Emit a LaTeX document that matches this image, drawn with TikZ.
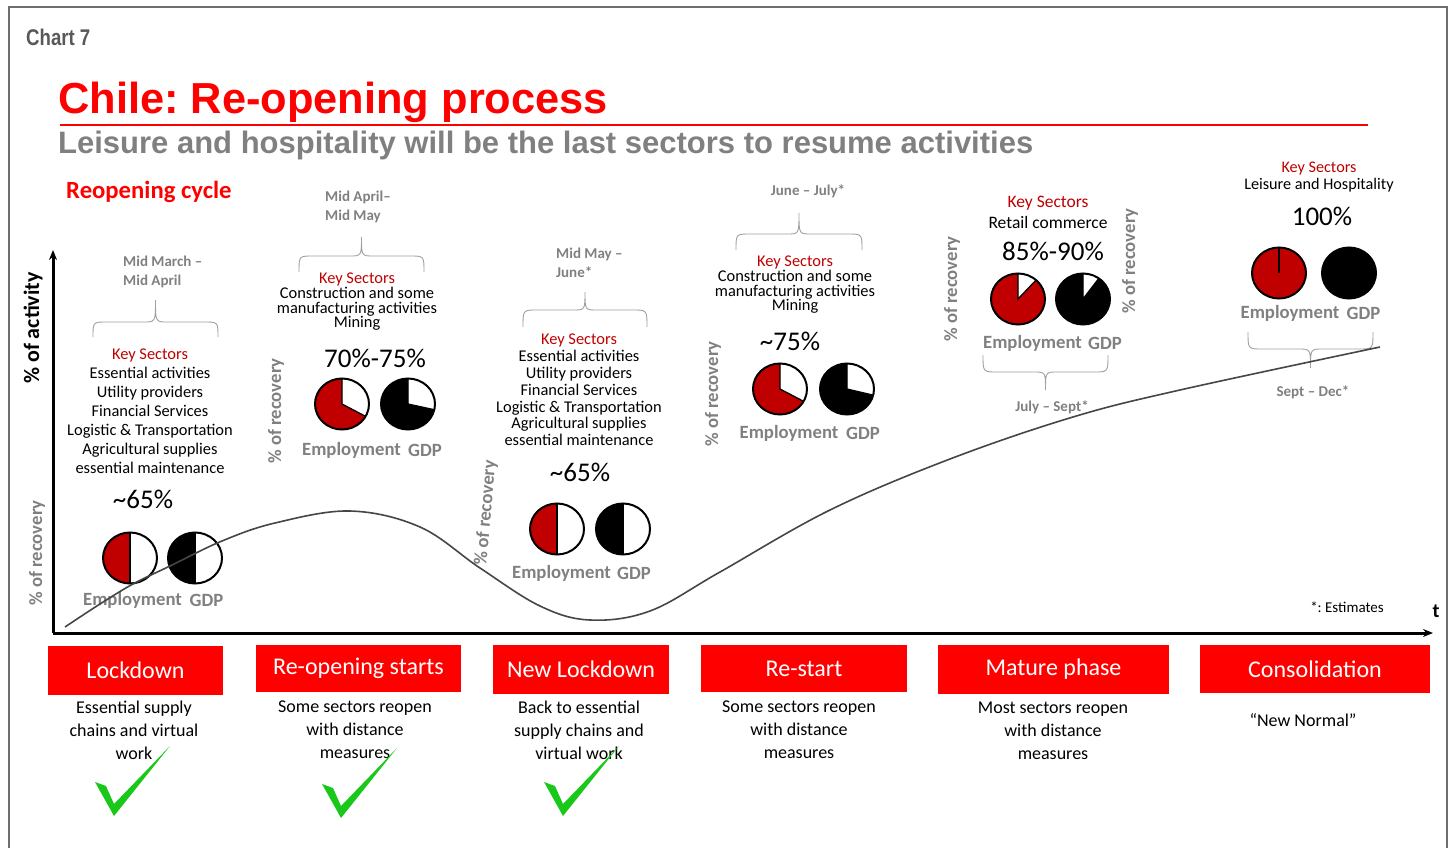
\documentclass[tikz,border=0pt]{standalone}
\usepackage{fontspec}
\setmainfont{Carlito}
\newfontfamily\arialfont{Liberation Sans}
\newfontfamily\narrowfont[FakeStretch=0.82]{Liberation Sans}
\usetikzlibrary{arrows.meta}
\frenchspacing

\definecolor{titlered}{RGB}{255,0,0}
\definecolor{keyred}{RGB}{192,0,0}
\definecolor{labelgray}{RGB}{128,128,128}
\definecolor{bracegray}{RGB}{160,160,160}
\definecolor{framegray}{RGB}{110,110,110}
\definecolor{chartgray}{RGB}{89,89,89}
\definecolor{curvegray}{RGB}{70,70,70}
\definecolor{okgreen}{RGB}{25,200,25}

% pie: x, y, fill colour, angle where the filled part stops
\newcommand{\recpie}[4]{%
  \begin{scope}[shift={(#1,#2)},yscale=-1]
    \fill[white] (0,0) ellipse [x radius=27, y radius=25.5];
    \fill[#3] (0,0) -- (0,25.5) arc [start angle=90, end angle=#4, x radius=27, y radius=25.5] -- cycle;
    \draw[line width=1.3pt] (0,25.5) -- (0,0) -- (#4:27 and 25.5);
    \draw[line width=2pt] (0,0) ellipse [x radius=27, y radius=25.5];
  \end{scope}}

% brace: left x, right x, end y, flat y, tip y
\newcommand{\periodbrace}[5]{%
  \pgfmathsetmacro{\bmid}{(#1+#2)/2}
  \draw[bracegray, line width=0.9pt] (#1,#3) .. controls (#1,#4) .. ({#1+14},#4)
    -- ({\bmid-12},#4) .. controls (\bmid,#4) .. (\bmid,#5)
    .. controls (\bmid,#4) .. ({\bmid+12},#4)
    -- ({#2-14},#4) .. controls (#2,#4) .. (#2,#3);}

\tikzset{
  keytext/.style={align=center, inner sep=0, font=\fontsize{16.4}{19}\selectfont},
  datelbl/.style={inner sep=0, text=labelgray, font=\bfseries\fontsize{15}{19}\selectfont},
  pctlbl/.style={inner sep=0, font=\fontsize{27}{30}\selectfont},
  pielbl/.style={inner sep=0, text=labelgray, font=\bfseries\fontsize{18.7}{22}\selectfont},
  reclbl/.style={inner sep=0, rotate=90, text=labelgray, font=\bfseries\fontsize{18.7}{22}\selectfont},
  phasebox/.style={fill=titlered, text=white, inner sep=0, font=\fontsize{24}{28}\selectfont},
  phasedesc/.style={align=center, inner sep=0, font=\fontsize{18}{23}\selectfont},
  tick/.pic={\fill[okgreen] (0,0) -- (-19,-34) -- (-8,-30) -- (0,-12) -- (56,-70) -- cycle;}
}

\begin{document}
\begin{tikzpicture}[x=1pt, y=-1pt, >={Stealth[length=10pt, width=8pt]}]
\useasboundingbox (0,0) rectangle (1452,848);

% frame
\draw[framegray, line width=2pt] (9,848) -- (9,7) -- (1447,7) -- (1447,848);

% headings
\node[anchor=base west, inner sep=0, text=chartgray, font=\narrowfont\bfseries\fontsize{22.7}{26}\selectfont] (chart) at (26,46) {Chart 7};
\node[anchor=base west, inner sep=0, text=titlered, font=\arialfont\bfseries\fontsize{43.4}{50}\selectfont] (title) at (58,114) {Chile: Re-opening process};
\draw[titlered, line width=2.5pt] (60,125) -- (1368,125);
\node[anchor=base west, inner sep=0, text=labelgray, font=\arialfont\bfseries\fontsize{31}{36}\selectfont] (subtitle) at (58,154) {Leisure and hospitality will be the last sectors to resume activities};
\node[anchor=base west, inner sep=0, text=titlered, font=\bfseries\fontsize{24.7}{28}\selectfont] (cycle) at (66,198) {Reopening cycle};

% axes
\coordinate (origin) at (53,633);
\coordinate (ytop) at (53,250);
\coordinate (xend) at (1433,633);
\draw[->, line width=3pt] (origin) -- (ytop);
\draw[->, line width=3pt] (origin) -- (xend);
\node[rotate=90, inner sep=0, font=\bfseries\fontsize{22}{26}\selectfont] (activity) at (33,328) {\% of activity};
\node[inner sep=0, font=\bfseries\fontsize{20}{24}\selectfont] (tlbl) at (1436,611) {t};
\node[inner sep=0, font=\fontsize{15}{18}\selectfont] (estim) at (1347,607) {*: Estimates};

% braces and periods
\periodbrace{93}{218}{337}{322}{300}
\periodbrace{299}{424}{272}{256}{237}
\periodbrace{523}{647}{327}{310}{292}
\periodbrace{736}{862}{250}{234}{213}
\periodbrace{983}{1108}{355}{372}{390}
\periodbrace{1248}{1373}{332}{349}{368}
\node[datelbl, anchor=west, align=left] (dateA) at (123,271.5) {Mid March –\\Mid April};
\node[datelbl, anchor=west, align=left] (dateB) at (325,206.5) {Mid April–\\Mid May};
\node[datelbl, anchor=west, align=left] (dateC) at (556,262.5) {Mid May –\\June*};
\node[datelbl] (dateD) at (808,191) {June – July*};
\node[datelbl] (dateE) at (1052,407) {July – Sept*};
\node[datelbl] (dateF) at (1313,392) {Sept – Dec*};

% key sectors
\node[keytext] (keyA) at (150,411) {\textcolor{keyred}{Key Sectors}\\Essential activities\\Utility providers\\Financial Services\\Logistic \& Transportation\\Agricultural supplies\\essential maintenance};
\node[keytext, font=\fontsize{16.4}{14.7}\selectfont] (keyB) at (357,302) {\textcolor{keyred}{Key Sectors}\\Construction and some\\manufacturing activities\\Mining};
\node[keytext, font=\fontsize{16.4}{16.8}\selectfont] (keyC) at (579,390) {\textcolor{keyred}{Key Sectors}\\Essential activities\\Utility providers\\Financial Services\\Logistic \& Transportation\\Agricultural supplies\\essential maintenance};
\node[keytext, font=\fontsize{16.4}{14.7}\selectfont] (keyD) at (795,285) {\textcolor{keyred}{Key Sectors}\\Construction and some\\manufacturing activities\\Mining};
\node[keytext, font=\fontsize{17.5}{21}\selectfont] (keyE) at (1048,212) {\textcolor{keyred}{Key Sectors}\\Retail commerce};
\node[keytext, font=\fontsize{16.2}{16.5}\selectfont] (keyF) at (1319,177) {\textcolor{keyred}{Key Sectors}\\Leisure and Hospitality};

% recovery shares
\node[pctlbl] (pctA) at (143,499) {\textasciitilde65\%};
\node[pctlbl] (pctB) at (375,358) {70\%-75\%};
\node[pctlbl] (pctC) at (580,472) {\textasciitilde65\%};
\node[pctlbl] (pctD) at (790,341) {\textasciitilde75\%};
\node[pctlbl] (pctE) at (1053,251) {85\%-90\%};
\node[pctlbl] (pctF) at (1322,216) {100\%};

\recpie{130}{558}{keyred}{270}
\recpie{195}{558}{black}{270}
\recpie{342}{404}{keyred}{331}
\recpie{408}{404}{black}{347}
\recpie{557}{529}{keyred}{270}
\recpie{623}{529}{black}{270}
\recpie{780}{389}{keyred}{331}
\recpie{847}{389}{black}{346}
\recpie{1018}{299}{keyred}{408}
\recpie{1083}{299}{black}{414}
\recpie{1279}{273}{keyred}{450}
\recpie{1349}{273}{black}{450}

\node[pielbl] (empA) at (132.5,600) {Employment};
\node[pielbl] (gdpA) at (206.5,600) {GDP};
\node[pielbl] (empB) at (351.5,450) {Employment};
\node[pielbl] (gdpB) at (425,450) {GDP};
\node[pielbl] (empC) at (561.5,573) {Employment};
\node[pielbl] (gdpC) at (634,573) {GDP};
\node[pielbl] (empD) at (789,433) {Employment};
\node[pielbl] (gdpD) at (863,433) {GDP};
\node[pielbl] (empE) at (1032.5,343) {Employment};
\node[pielbl] (gdpE) at (1105,343) {GDP};
\node[pielbl] (empF) at (1290,313) {Employment};
\node[pielbl] (gdpF) at (1363.5,313) {GDP};

\node[reclbl] (recA) at (37,553) {\% of recovery};
\node[reclbl] (recB) at (276,411) {\% of recovery};
\node[reclbl, rotate=-5] (recC) at (486,513) {\% of recovery};
\node[reclbl] (recD) at (713,394) {\% of recovery};
\node[reclbl] (recE) at (952,289) {\% of recovery};
\node[reclbl] (recF) at (1130,261) {\% of recovery};

% activity curve, on top of the pies
\draw[curvegray, line width=1.6pt] plot[smooth, tension=0.6] coordinates {(65,627) (100,604) (133,584) (170,566) (222,541) (275,523) (350,511) (420,527) (480,568) (540,606) (590,620) (650,611) (720,572) (830,510) (950,459) (1073,417) (1180,390) (1380,347)};

% phases
\node[phasebox, minimum width=175, minimum height=49] (phaseA) at (135.5,670.5) {Lockdown};
\node[phasebox, minimum width=205, minimum height=47] (phaseB) at (358.5,668.5) {Re-opening starts};
\node[phasebox, minimum width=176, minimum height=49] (phaseC) at (581,669.5) {New Lockdown};
\node[phasebox, minimum width=206, minimum height=47] (phaseD) at (804,668.5) {Re-start};
\node[phasebox, minimum width=231, minimum height=49] (phaseE) at (1053.5,669.5) {Mature phase};
\node[phasebox, minimum width=230, minimum height=48] (phaseF) at (1315,669) {Consolidation};

\node[phasedesc] (descA) at (134,730) {Essential supply\\chains and virtual\\work};
\node[phasedesc] (descB) at (355,730) {Some sectors reopen\\with distance\\measures};
\node[phasedesc] (descC) at (579,730) {Back to essential\\supply chains and\\virtual work};
\node[phasedesc] (descD) at (799,730) {Some sectors reopen\\with distance\\measures};
\node[phasedesc] (descE) at (1053,731) {Most sectors reopen\\with distance\\measures};
\node[phasedesc] (descF) at (1303,720) {“New Normal”};

% done marks
\pic at (114,816) {tick};
\pic at (341,818) {tick};
\pic at (563,816) {tick};
\end{tikzpicture}
\end{document}
